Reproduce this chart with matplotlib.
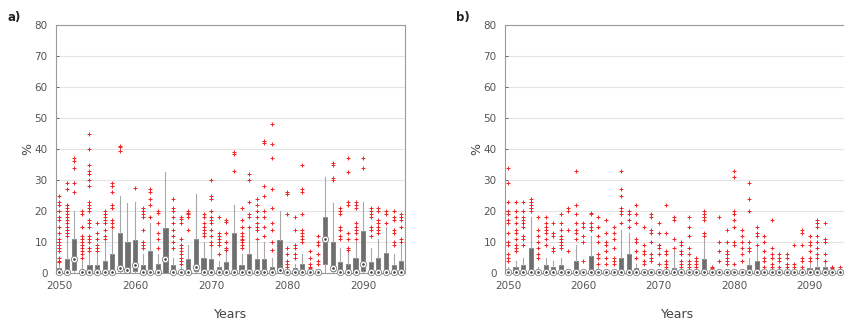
import numpy as np
import matplotlib
matplotlib.use("Agg")
import matplotlib.pyplot as plt

years = list(range(2050, 2096))

# ---------------- panel a ----------------
q3_a = [1.5, 4.5, 11, 1, 2.5, 2.5, 4, 6, 13, 10, 10.5, 2.5, 7, 3, 14.5, 2.5, 0.5, 4.5, 11, 5,
        4.5, 2, 3.5, 13, 2.5, 6, 4.5, 4.5, 2, 10.5, 0.5, 1.5, 3, 0.5, 0.2, 18, 10, 3.5, 3, 5,
        13.5, 3.5, 5, 6.5, 2.5, 4]
q1_a = [0, 0, 1, 0, 0, 0, 0, 0, 0.5, 0, 0.5, 0, 0, 0, 0, 0, 0, 0, 0.5, 0,
        0, 0, 0, 0, 0, 0, 0, 0, 0, 0.5, 0, 0, 0, 0, 0, 3, 0.5, 0, 0, 0,
        0.5, 0, 0, 0, 0, 0]
med_a = [0.4, 0.4, 4.5, 0.4, 0.4, 0.4, 0.4, 0.4, 1.5, 1.0, 2.5, 0.4, 0.4, 0.4, 4.5, 0.4, 0.4, 0.4, 2.0, 0.4,
         0.4, 0.4, 0.4, 0.4, 0.4, 0.4, 0.4, 0.4, 0.4, 1.0, 0.4, 0.4, 0.4, 0.4, 0.4, 11, 1.5, 0.4, 0.4, 0.4,
         3.0, 0.4, 0.4, 0.4, 0.4, 0.4]
whi_a = [3, 11, 20, 4, 6, 6, 10, 14, 25, 22.5, 23, 6, 16, 6, 32.5, 5, 2, 9, 25.5, 10,
         8, 4, 7, 22, 6, 14, 10, 10, 5, 20, 1, 3, 6, 1, 0.5, 31, 22.5, 8, 7, 10,
         23, 8, 11, 15, 6, 9]
fliers_a = [
    [25, 23, 22, 20, 18, 17, 15, 13, 11, 10, 9, 8, 7, 5, 4, 3.5],
    [29, 27, 22, 21, 20, 19, 18, 17, 16, 15, 14, 13, 12],
    [37, 36, 34, 29, 26],
    [20, 19, 15, 12, 11, 10, 9, 8, 7, 6, 5],
    [45, 40, 35, 33, 32, 30, 28, 23, 22, 21, 20, 17, 16, 15, 12, 11, 10, 8, 7],
    [16, 13, 11, 9, 8, 7],
    [20, 19, 18, 17, 16, 14, 12, 11],
    [29, 28, 26, 22, 21, 17, 16, 15],
    [41, 40.5, 39.5],
    [],
    [27.5],
    [21, 20, 19, 18, 14, 10, 9, 8],
    [27, 26, 24, 22, 18],
    [20, 19.5, 16, 13, 11, 8],
    [],
    [24, 21, 20, 18, 16, 14, 12, 10, 8],
    [18, 17.5, 16, 11, 9, 8, 7, 6, 5, 4, 3],
    [20, 19.5, 19, 18, 14],
    [],
    [19, 18, 16, 15, 14, 13, 12],
    [30, 25, 24, 20, 18, 17, 16, 14, 12, 10, 9],
    [18, 13, 12, 11, 10, 9, 6],
    [17, 16.5, 13, 10, 8, 7.5],
    [39, 38.5, 33],
    [21, 17, 15, 13, 12, 11, 10.5, 10, 9, 8],
    [32, 30, 23, 19, 18, 15],
    [24, 22, 20, 18, 16, 15, 14, 11],
    [42.5, 42, 28, 25, 20, 18, 15, 12],
    [48, 41.5, 37, 27, 21, 16, 14, 10, 7.5],
    [],
    [26, 25.5, 19, 8, 6, 4, 3, 2],
    [18, 14, 9, 8, 6, 5],
    [35, 27, 26, 19, 14, 13, 12, 11, 10],
    [7, 5, 3, 2, 1.5],
    [12, 10, 9, 6, 4, 3],
    [],
    [35.5, 35, 30.5, 30],
    [21, 20, 19, 15, 14, 12, 11],
    [37, 32.5, 23, 22, 13, 11, 8, 7.5],
    [23, 22, 21, 16, 15, 14, 13, 11],
    [37, 34],
    [21, 20, 19, 18, 15, 14, 12],
    [21, 20, 17, 16, 15, 14, 13],
    [20, 19, 16],
    [20, 18, 17, 14, 13, 10, 9],
    [19, 18, 17, 15, 11, 10],
]

# ---------------- panel b ----------------
q3_b = [1, 2, 2.5, 8, 1, 2.5, 2, 2.5, 0, 4, 0, 5.5, 1, 0.5, 0.5, 5, 6, 1.5, 0, 0,
        0, 0, 1.5, 0, 0, 0, 4.5, 0, 0, 0, 0, 0, 2.5, 4, 0, 0, 0, 0, 0, 0,
        1.5, 2, 2, 0, 0, 0]
q1_b = [0] * 46
med_b = [0.4] * 46
whi_b = [2, 4, 5, 18, 2, 5, 4, 5, 0, 9, 0, 12, 2, 1, 1, 14, 13, 3, 0, 0,
         0, 0, 7, 0, 0, 0, 11, 0, 0, 0, 0, 0, 5, 8, 0, 0, 0, 0, 0, 0,
         3, 4, 4, 0, 0, 0]
fliers_b = [
    [34, 29, 23, 20, 19, 17, 16, 13, 10, 9, 6, 5, 4],
    [23, 20, 18, 16, 14, 13, 11, 9, 8, 7],
    [23, 20, 18, 17, 16, 15, 12, 11, 9],
    [24, 23, 22, 21, 20],
    [18, 14, 12, 10, 8, 6, 5],
    [18, 16, 15, 14, 13, 11, 9],
    [16, 13, 12, 8, 7],
    [19, 16, 14, 12, 11, 10, 9, 8],
    [21, 20, 14, 7],
    [33, 22, 19, 16, 14, 13, 11],
    [16, 15, 12, 10, 4],
    [19.5, 19, 16, 15, 14],
    [18, 15, 12, 10, 6, 5, 3],
    [17, 13, 10, 9, 7, 5, 3],
    [15, 13, 11, 8, 5, 4, 3],
    [33, 27, 25, 21, 20, 19, 16],
    [20, 19, 17, 15],
    [22, 19, 16, 11, 10, 7, 5],
    [15, 9, 7, 6, 4, 3],
    [19, 18, 14, 13, 10, 6, 5, 4],
    [16, 13, 9, 8, 6, 3],
    [22, 13, 7, 6, 4, 3, 2],
    [18, 17, 11, 8],
    [10, 9, 7, 6, 4, 3, 2],
    [18, 15, 12, 8, 6, 4, 3, 2],
    [5, 4, 3, 2, 1, 0.5],
    [20, 19, 18, 17, 13, 12],
    [2, 1.5, 1, 0.5],
    [18, 10, 7, 4],
    [14, 10, 7, 6, 5, 4, 3],
    [33, 31, 20, 19, 17, 15, 10, 9, 3],
    [14, 12, 10, 8, 6, 4],
    [29, 24, 20, 10, 8, 7],
    [15, 13, 12, 9],
    [12, 10, 7, 5, 4, 2],
    [17, 8, 6, 5, 3, 2, 1],
    [6, 5, 4, 2, 1],
    [6, 5, 3, 2, 1],
    [9, 3, 2, 1],
    [14, 13, 9, 5, 4, 2, 1],
    [12, 10, 9, 7, 5, 4],
    [17, 16, 15, 12, 10, 8, 6, 5],
    [16, 11, 10, 6, 4],
    [2, 1.5, 1],
    [2, 1, 0.5],
    [1.5, 1, 0.5],
]

yticks = [0, 10, 20, 30, 40, 50, 60, 70, 80]
xticks = [2050, 2060, 2070, 2080, 2090]

W, H = 844, 322
fig = plt.figure(figsize=(W / 100, H / 100), dpi=100)

tick_col = "#555555"
grid_col = "#e4e4e4"
spine_col = "#9a9a9a"


def draw(ax, q1, med, q3, whi, fliers, xlim):
    stats = []
    for y, a, m, b, w, f in zip(years, q1, med, q3, whi, fliers):
        stats.append(dict(q1=a, med=m, q3=b, whislo=0, whishi=max(w, b),
                          fliers=f, label=str(y)))
    ax.bxp(stats, positions=years, widths=0.55, patch_artist=True,
           showfliers=True, showcaps=False,
           boxprops=dict(facecolor="#6e6e6e", edgecolor="#6e6e6e", linewidth=0.5),
           whiskerprops=dict(color="#a8a8a8", linewidth=0.8),
           medianprops=dict(linewidth=0),
           flierprops=dict(marker="+", markeredgecolor="#f02424", markersize=3.3,
                           markeredgewidth=0.7, linestyle="none"),
           zorder=3)
    ax.plot(years, med, linestyle="none", marker="o", markersize=4.6,
            markerfacecolor="white", markeredgecolor="#808080",
            markeredgewidth=0.6, zorder=5, clip_on=False)
    ax.plot(years, med, linestyle="none", marker="o", markersize=0.9,
            markerfacecolor="#444444", markeredgecolor="#444444", zorder=6, clip_on=False)
    ax.set_xlim(*xlim)
    ax.set_ylim(0, 80)
    ax.set_yticks(yticks)
    ax.set_xticks(xticks)
    ax.set_xticklabels([str(t) for t in xticks])
    ax.yaxis.grid(True, color=grid_col, linewidth=0.8, zorder=0)
    ax.set_axisbelow(True)
    for s in ax.spines.values():
        s.set_color(spine_col)
        s.set_linewidth(0.8)
    ax.tick_params(axis="both", labelsize=7.5, colors=tick_col, length=2,
                   direction="in", width=0.6)
    ax.tick_params(axis="x", length=0, pad=6)
    ax.tick_params(axis="y", pad=6)
    ax.set_xlabel("Years", fontsize=9, color="#444444", labelpad=12)
    ax.set_ylabel("%", fontsize=9, color="#444444", labelpad=0)


ax_a = fig.add_axes([56 / W, 1 - 273 / H, 349 / W, 248 / H])
draw(ax_a, q1_a, med_a, q3_a, whi_a, fliers_a, (2049.6, 2095.5))
ax_b = fig.add_axes([505 / W, 1 - 273 / H, 346 / W, 248 / H])
draw(ax_b, q1_b, med_b, q3_b, whi_b, fliers_b, (2049.6, 2095.5))

fig.text(8 / W, 1 - 18 / H, "a)", fontsize=8.5, fontweight="bold", va="center", color="#222222")
fig.text(456 / W, 1 - 18 / H, "b)", fontsize=8.5, fontweight="bold", va="center", color="#222222")

fig.savefig("out.png", dpi=100)
